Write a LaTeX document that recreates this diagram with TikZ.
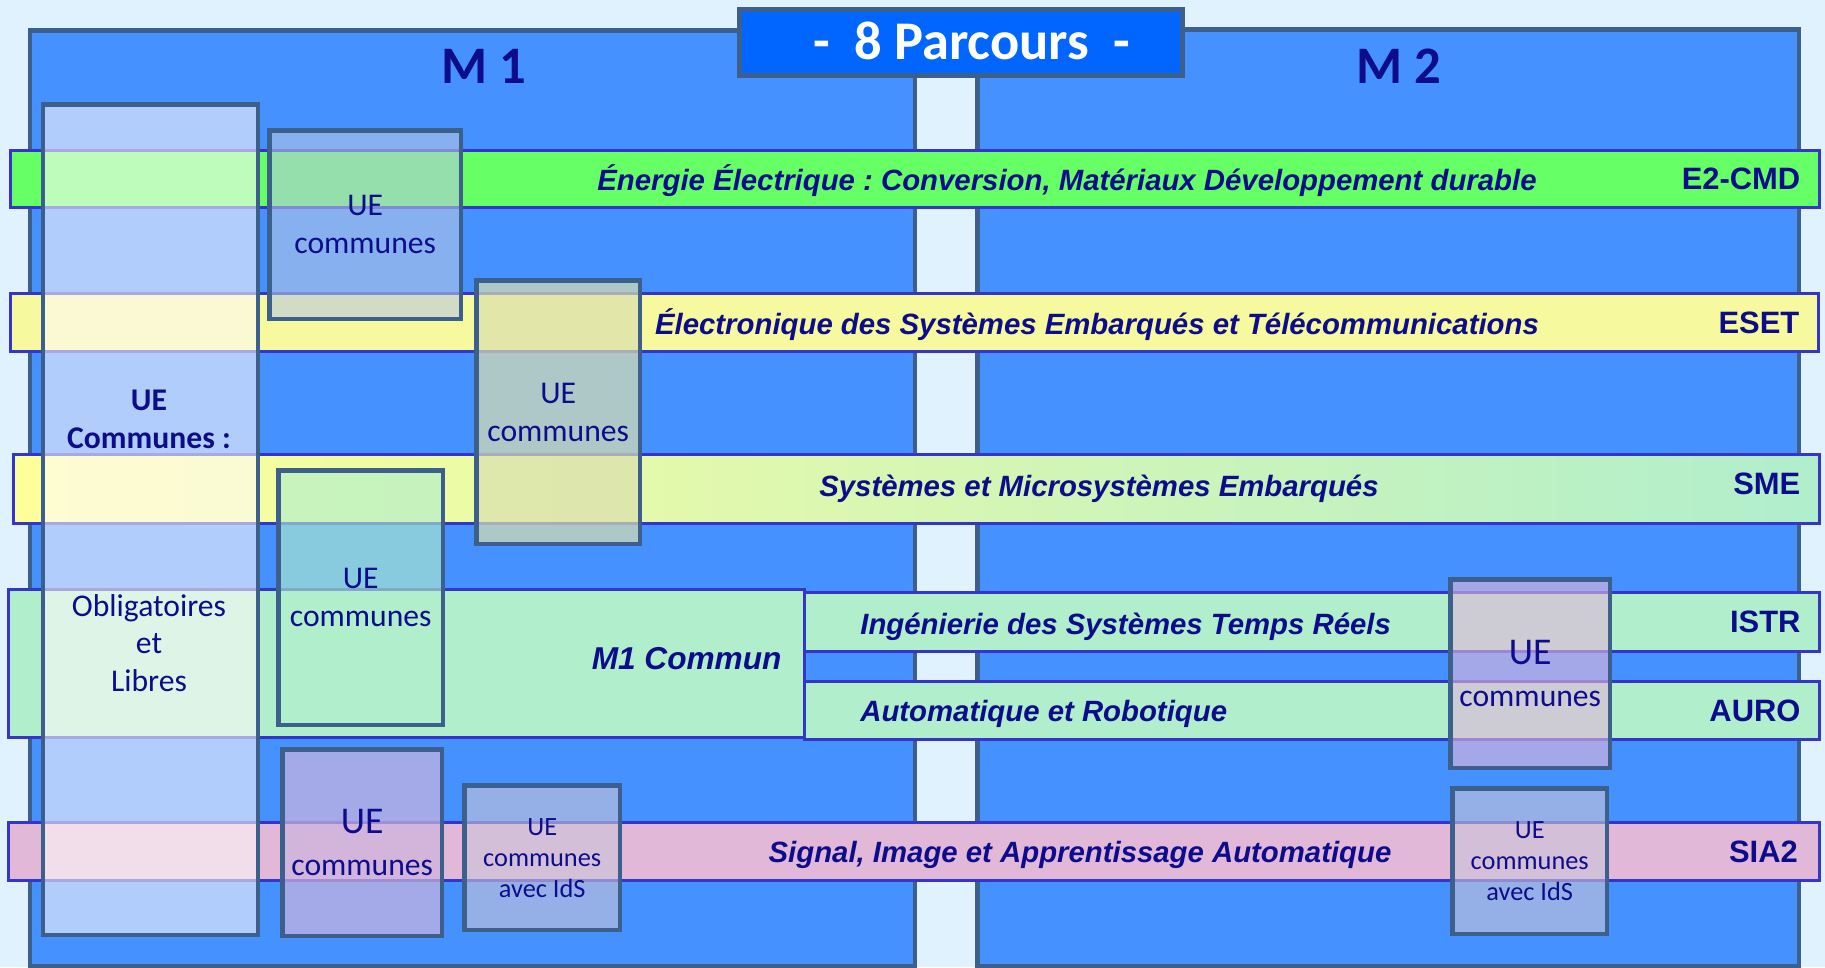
\documentclass[tikz,border=0pt]{standalone}
\usepackage{fontspec}
\setmainfont{Carlito}
\newfontfamily\arialfont{Liberation Sans}
\usepackage{tikz}
\usetikzlibrary{positioning}
\frenchspacing

\definecolor{backsky}{HTML}{E0F2FE}
\definecolor{panelblue}{HTML}{4591FF}
\definecolor{panelline}{HTML}{3C5F8C}
\definecolor{titleblue}{HTML}{0066FF}
\definecolor{bandline}{HTML}{3535CC}
\definecolor{navy}{HTML}{0D0D8C}
\definecolor{e2green}{HTML}{66FF66}
\definecolor{esetyellow}{HTML}{F7F99E}
\definecolor{smeyellow}{HTML}{FFFF99}
\definecolor{mint}{HTML}{B0EECC}
\definecolor{siapink}{HTML}{E2B8D8}

\newcommand{\uefont}{\fontsize{18}{21.5}\selectfont}
\newcommand{\uesmall}{\fontsize{15}{17.6}\selectfont}

\begin{document}
\begin{tikzpicture}[x=0.02cm, y=-0.02cm,
        panel/.style={draw=panelline, line width=0.09cm, fill=panelblue, anchor=north west, inner sep=0pt},
        band/.style={draw=bandline, line width=0.06cm, anchor=north west, inner sep=0pt},
        uebox/.style={draw=panelline, line width=0.09cm, fill opacity=0.6, text opacity=1, anchor=north west,
                      inner sep=0pt, align=center, text=navy, font=\uefont},
        parc/.style={text=navy, font=\arialfont\bfseries\itshape\fontsize{16.7}{20}\selectfont, inner sep=0pt},
        code/.style={text=navy, font=\arialfont\bfseries\fontsize{17.6}{20}\selectfont, inner sep=0pt},
        year/.style={text=navy, font=\bfseries\fontsize{30}{36}\selectfont, inner sep=0pt}]
        \fill[backsky] (0,0) rectangle (1825,967);
        \useasboundingbox (0,0) rectangle (1825,967);

        \node[panel, minimum width=17.7cm, minimum height=18.72cm] (m1) at (28,28) {};
        \node[panel, minimum width=16.44cm, minimum height=18.74cm] (m2) at (975,27) {};
        \node[year] (m1t) at (484,66) {M 1};
        \node[year] (m2t) at (1399,66) {M 2};
        \node[panel, fill=titleblue, line width=0.1cm, minimum width=8.86cm, minimum height=1.32cm] (title) at (737,7) {};
        \node[text=white, font=\bfseries\fontsize{31}{36}\selectfont, inner sep=0pt] (titlet) at (972,41) {-~~8 Parcours~~-};

        \node[band, fill=e2green, minimum width=36.18cm, minimum height=1.14cm] (e2cmd) at (9,149) {};
        \node[band, fill=esetyellow, minimum width=36.16cm, minimum height=1.16cm] (eset) at (9,292) {};
        \node[band, left color=smeyellow, right color=mint, minimum width=36.12cm, minimum height=1.38cm] (sme) at (12,453) {};
        \node[band, fill=mint, minimum width=15.92cm, minimum height=2.96cm] (m1commun) at (7,588) {};
        \node[band, fill=mint, minimum width=20.3cm, minimum height=1.18cm] (istr) at (803,591) {};
        \node[band, fill=mint, minimum width=20.3cm, minimum height=1.16cm] (auro) at (803,680) {};
        \node[band, fill=siapink, minimum width=36.22cm, minimum height=1.16cm] (sia2) at (7,821) {};

        \node[parc] (e2cmdt) at (1067,181) {Énergie Électrique : Conversion, Matériaux Développement durable};
        \node[parc] (esett) at (1097,325) {Électronique des Systèmes Embarqués et Télécommunications};
        \node[parc] (smet) at (1099,489) {Systèmes et Microsystèmes Embarqués};
        \node[parc, right=1.14cm of istr.west, yshift=-0.09cm] (istrt) {Ingénierie des Systèmes Temps Réels};
        \node[parc, right=1.14cm of auro.west, yshift=-0.06cm] (aurot) {Automatique et Robotique};
        \node[parc] (sia2t) at (1080,855) {Signal, Image et Apprentissage Automatique};
        \node[code, font=\arialfont\bfseries\itshape\fontsize{18}{20}\selectfont, left=0.48cm of m1commun.east, yshift=0.1cm] (m1communt) {M1 Commun};

        \node[code, left=0.4cm of e2cmd.east] (e2cmdc) {E2-CMD};
        \node[code, left=0.4cm of eset.east] (esetc) {ESET};
        \node[code, left=0.4cm of sme.east, yshift=0.1cm] (smec) {SME};
        \node[code, left=0.4cm of istr.east] (istrc) {ISTR};
        \node[code, left=0.4cm of auro.east] (auroc) {AURO};
        \node[code, left=0.45cm of sia2.east] (sia2c) {SIA2};

        \node[uebox, fill=white!92!pink, fill opacity=0.58, minimum width=4.3cm, minimum height=16.62cm] (ueall) at (41,102) {};
        \node[uebox, fill={rgb,255:red,183;green,200;blue,226}, fill opacity=0.58, minimum width=3.84cm, minimum height=3.78cm] (ue1) at (267,128) {UE\\communes};
        \node[uebox, fill={rgb,255:red,218;green,224;blue,175}, fill opacity=0.7, minimum width=3.28cm, minimum height=5.28cm] (ue2) at (474,278) {UE\\communes};
        \node[uebox, fill=mint, fill opacity=0.63, minimum width=3.3cm, minimum height=5.1cm] (ue3) at (276,468) {UE\\communes};
        \node[uebox, fill={rgb,255:red,205;green,181;blue,222}, fill opacity=0.7, minimum width=3.2cm, minimum height=3.74cm,
              font=\fontsize{18}{24}\selectfont] (ue4) at (280,747) {{\fontsize{21.5}{24}\selectfont UE}\\communes};
        \node[uebox, fill={rgb,255:red,203;green,197;blue,216}, minimum width=3.12cm, minimum height=2.9cm, font=\uesmall] (ue5) at (462,783) {UE\\communes\\avec IdS};
        \node[uebox, fill={rgb,255:red,223;green,183;blue,218}, fill opacity=0.62, minimum width=3.2cm, minimum height=3.78cm,
              font=\fontsize{18}{24}\selectfont] (ue6) at (1448,577) {{\fontsize{21.5}{24}\selectfont UE}\\communes};
        \node[uebox, fill={rgb,255:red,203;green,197;blue,216}, minimum width=3.1cm, minimum height=2.92cm, font=\uesmall] (ue7) at (1450,786) {UE\\communes\\avec IdS};

        \node[align=center, text=navy, font=\bfseries\uefont, inner sep=0pt] (uetitle) at (149,419) {UE\\Communes :};
        \node[align=center, text=navy, font=\uefont, inner sep=0pt] (ueobl) at (149,643) {Obligatoires\\et\\Libres};
\end{tikzpicture}
\end{document}
